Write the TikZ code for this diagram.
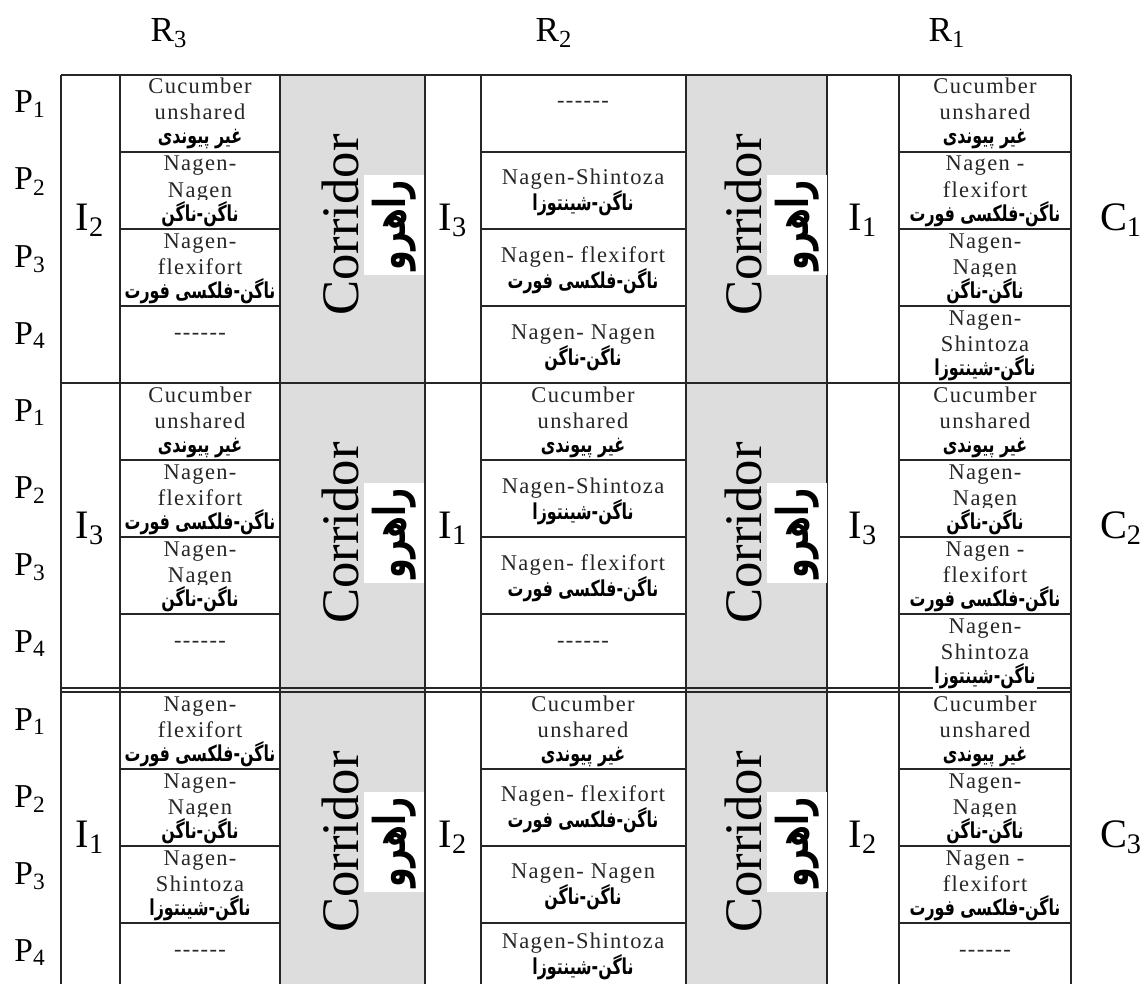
\documentclass[tikz,border=0pt]{standalone}
\usepackage{fontspec}
\setmainfont{Liberation Serif}
\newfontfamily\cellfont[LetterSpace=6]{Liberation Serif}
\newfontfamily\farsi[Script=Arabic,FakeStretch=0.72]{DejaVu Sans}
\TeXXeTstate=1
\definecolor{corridor}{RGB}{221,221,221}

\begin{document}
\begin{tikzpicture}[x=0.02cm,y=-0.02cm,
    grid/.style={draw=black!85,line width=0.7pt},
    en/.style={font=\cellfont\fontsize{12.8}{14}\selectfont,text=black!85,anchor=base,inner sep=0pt},
    fa/.style={font=\farsi\bfseries\fontsize{12.5}{14}\selectfont,fill=white,anchor=base,inner sep=0.8pt},
    big/.style={font=\fontsize{23}{26}\selectfont,anchor=base},
    rlab/.style={font=\fontsize{20}{24}\selectfont,anchor=base},
    plab/.style={font=\fontsize{19}{22}\selectfont,anchor=base},
    corr/.style={font=\fontsize{30}{32}\selectfont,rotate=90,inner sep=0pt},
    corrbox/.style={font=\farsi\bfseries\fontsize{25}{27}\selectfont,rotate=90,fill=white,minimum width=2cm,minimum height=1.2cm,inner sep=0pt}]
  \useasboundingbox (0,0) rectangle (1148,983);
  \clip (0,0) rectangle (1148,983);

  % corridors
  \fill[corridor] (280,75) rectangle (425,1000);
  \fill[corridor] (686,75) rectangle (827,1000);

  % grid
  \foreach \x in {61,120,280,425,481,686,827,899,1071}
    \draw[grid] (\x,75) -- (\x,1000);
  \draw[grid] (61,75) -- (1071,75);
  \draw[grid,line width=1.4pt] (61,383) -- (1071,383);
  \draw[grid] (61,688) -- (1071,688) (61,692) -- (1071,692);
  \foreach \t in {75,383,692}
    \foreach \k in {1,2,3}
      \draw[grid] (120,\t+77*\k) -- (280,\t+77*\k) (481,\t+77*\k) -- (686,\t+77*\k)
                  (899,\t+77*\k) -- (1071,\t+77*\k);

  % labels
  \node[rlab] (r3) at (169,42) {R\textsubscript{3}};
  \node[rlab] (r2) at (554,42) {R\textsubscript{2}};
  \node[rlab] (r1) at (947,42) {R\textsubscript{1}};
  \foreach \b/\t/\i/\j/\l in {1/75/2/3/1, 2/383/3/1/3, 3/692/1/2/2} {
    \foreach \k in {1,...,4}
      \node[plab] (p\b\k) at (30,\t+77*\k-39) {P\textsubscript{\k}};
    \node[big] (ia\b) at (90,\t+155) {I\textsubscript{\i}};
    \node[big] (ib\b) at (453,\t+155) {I\textsubscript{\j}};
    \node[big] (ic\b) at (863,\t+155) {I\textsubscript{\l}};
    \node[big] (c\b) at (1121,\t+155) {C\textsubscript{\b}};
    \node[corr] (cora\b) at (340,\t+150) {Corridor};
    \node[corrbox] (rha\b) at (394,\t+150) {\beginR راهرو\endR};
    \node[corr] (corb\b) at (743,\t+150) {Corridor};
    \node[corrbox] (rhb\b) at (797,\t+150) {\beginR راهرو\endR};
  }

  % three line cells
  \foreach \x/\t/\la/\lb/\f [count=\n] in {
      200/75/Cucumber/unshared/{غیر پیوندی},
      200/152/Nagen-/Nagen/{ناگن-ناگن},
      200/229/Nagen-/flexifort/{ناگن-فلکسی فورت},
      985/75/Cucumber/unshared/{غیر پیوندی},
      985/152/{Nagen -}/flexifort/{ناگن-فلکسی فورت},
      985/229/Nagen-/Nagen/{ناگن-ناگن},
      985/306/Nagen-/Shintoza/{ناگن-شینتوزا},
      200/383/Cucumber/unshared/{غیر پیوندی},
      200/460/Nagen-/flexifort/{ناگن-فلکسی فورت},
      200/537/Nagen-/Nagen/{ناگن-ناگن},
      583/383/Cucumber/unshared/{غیر پیوندی},
      985/383/Cucumber/unshared/{غیر پیوندی},
      985/460/Nagen-/Nagen/{ناگن-ناگن},
      985/537/{Nagen -}/flexifort/{ناگن-فلکسی فورت},
      985/614/Nagen-/Shintoza/{ناگن-شینتوزا},
      200/692/Nagen-/flexifort/{ناگن-فلکسی فورت},
      200/769/Nagen-/Nagen/{ناگن-ناگن},
      200/846/Nagen-/Shintoza/{ناگن-شینتوزا},
      583/692/Cucumber/unshared/{غیر پیوندی},
      985/692/Cucumber/unshared/{غیر پیوندی},
      985/769/Nagen-/Nagen/{ناگن-ناگن},
      985/846/{Nagen -}/flexifort/{ناگن-فلکسی فورت}} {
    \node[en] (ea\n) at (\x,\t+19) {\la};
    \node[en] (eb\n) at (\x,\t+45) {\lb};
    \node[fa] (fa\n) at (\x,\t+69) {\beginR\f\endR};
  }

  % two line cells
  \foreach \t/\la/\f/\d [count=\n] in {
      152/Nagen-Shintoza/{ناگن-شینتوزا}/59,
      229/{Nagen- flexifort}/{ناگن-فلکسی فورت}/59,
      306/{Nagen- Nagen}/{ناگن-ناگن}/59,
      460/Nagen-Shintoza/{ناگن-شینتوزا}/59,
      537/{Nagen- flexifort}/{ناگن-فلکسی فورت}/59,
      769/{Nagen- flexifort}/{ناگن-فلکسی فورت}/58,
      846/{Nagen- Nagen}/{ناگن-ناگن}/58,
      923/Nagen-Shintoza/{ناگن-شینتوزا}/51} {
    \node[en] (ec\n) at (583,\t+\d-26) {\la};
    \node[fa] (fb\n) at (583,\t+\d) {\beginR\f\endR};
  }

  % empty cells
  \foreach \x/\t [count=\n] in {200/306, 583/75, 200/614, 583/614, 200/923, 985/923}
    \node[en] (d\n) at (\x,\t+33) {-{}-{}-{}-{}-{}-};
\end{tikzpicture}
\end{document}
